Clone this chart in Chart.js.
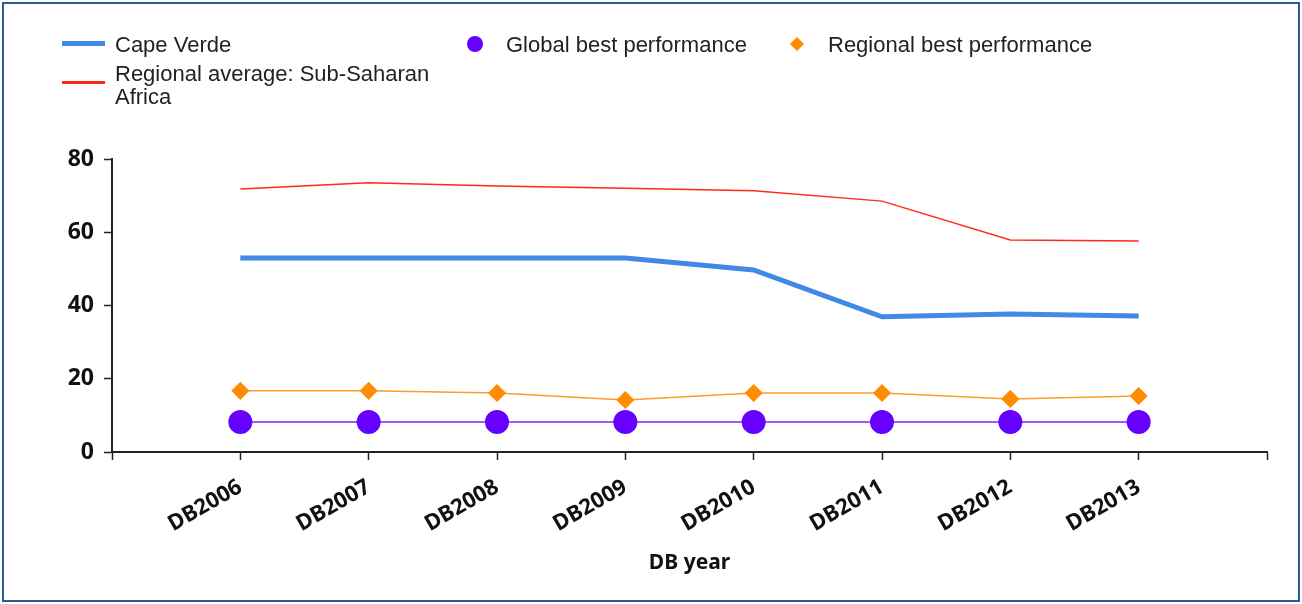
<!DOCTYPE html>
<html lang="en">
<head>
    <meta charset="UTF-8">
    <title>Cape Verde - DB year</title>
    <script src="https://cdn.jsdelivr.net/npm/chart.js"></script>
    <style>
        html, body { margin: 0; padding: 0; background: #fff; }
        body { width: 1302px; height: 604px; position: relative; overflow: hidden; }
        #frame { position: absolute; left: 2px; top: 2px; width: 1294px; height: 596px; border: 2px solid #2b5c9a; }
        #wrap { position: absolute; left: 0; top: 0; width: 1302px; height: 604px; }
        .lg { position: absolute; font-family: "Liberation Sans", Arial, sans-serif; font-size: 22px; color: #222; line-height: 23px; }
        .sw { position: absolute; }
    </style>
</head>
<body>
    <div id="frame"></div>
    <div id="wrap"><canvas id="chart"></canvas></div>
    <div id="legend"></div>

    <script>
        const categories = ['DB2006', 'DB2007', 'DB2008', 'DB2009', 'DB2010', 'DB2011', 'DB2012', 'DB2013'];
        const capeVerde = [53, 53, 53, 53, 49.7, 36.9, 37.7, 37.1];
        const regionalAverage = [71.8, 73.5, 72.6, 72.0, 71.3, 68.5, 57.9, 57.6];
        const globalBest = [8.2, 8.2, 8.2, 8.2, 8.2, 8.2, 8.2, 8.2];
        const regionalBest = [16.7, 16.7, 16.1, 14.2, 16.1, 16.1, 14.5, 15.3];
        const yTicks = [0, 20, 40, 60, 80];

        function pts(arr) {
            return arr.map((v, i) => ({ x: i + 1, y: v }));
        }

        const boldFont = size => ({ family: '"Noto Sans", "Open Sans", sans-serif', size: size, weight: 'bold' });

        new Chart(document.getElementById('chart'), {
            type: 'line',
            data: {
                datasets: [
                    { label: 'Cape Verde', data: pts(capeVerde), borderColor: '#4189e6', borderWidth: 5, pointRadius: 0, order: 2 },
                    { label: 'Regional average: Sub-Saharan Africa', data: pts(regionalAverage), borderColor: '#ff2a1a', borderWidth: 1.5, pointRadius: 0, order: 1 },
                    { label: 'Global best performance', data: pts(globalBest), borderColor: '#9b5cff', borderWidth: 2, pointStyle: 'circle', pointRadius: 11, pointBackgroundColor: '#6600ff', pointBorderColor: '#6600ff', order: 4 },
                    { label: 'Regional best performance', data: pts(regionalBest), borderColor: '#ff9a2a', borderWidth: 1.5, pointStyle: 'rectRot', pointRadius: 8, pointBackgroundColor: '#ff8c00', pointBorderColor: '#ff8c00', order: 3 }
                ]
            },
            options: {
                responsive: true,
                maintainAspectRatio: false,
                animation: false,
                layout: { padding: { top: 159, right: 35, left: 0, bottom: 0 } },
                plugins: { legend: { display: false }, tooltip: { enabled: false } },
                scales: {
                    x: {
                        type: 'linear',
                        min: 0,
                        max: categories.length + 1,
                        afterBuildTicks: s => { s.ticks = Array.from({ length: categories.length + 2 }, (_, i) => ({ value: i })); },
                        afterFit: s => { s.height = 152; },
                        grid: { drawOnChartArea: false, color: '#222', tickLength: 8, tickWidth: 1.5 },
                        border: { color: '#222', width: 2 },
                        ticks: {
                            autoSkip: false,
                            minRotation: 30,
                            maxRotation: 30,
                            padding: 14,
                            color: '#111',
                            font: boldFont(22),
                            callback: v => categories[v - 1] || ''
                        },
                        title: { display: true, text: 'DB year', color: '#111', font: boldFont(21), padding: { top: 4, bottom: 28 } }
                    },
                    y: {
                        min: 0,
                        max: 80,
                        afterBuildTicks: s => { s.ticks = yTicks.map(v => ({ value: v })); },
                        afterFit: s => { s.width = 112; },
                        grid: { drawOnChartArea: false, color: '#222', tickLength: 8, tickWidth: 1.5 },
                        border: { color: '#222', width: 2 },
                        ticks: { padding: 10, color: '#111', font: boldFont(23) }
                    }
                }
            }
        });

        // legend drawn as html so the long label can wrap like the original
        const legendItems = [
            { text: 'Cape Verde', kind: 'line', color: '#4189e6', thick: 5, left: 62, top: 33, width: 390 },
            { text: 'Regional average: Sub-Saharan Africa', kind: 'line', color: '#ff2a1a', thick: 3, left: 62, top: 62, width: 390 },
            { text: 'Global best performance', kind: 'dot', color: '#6600ff', left: 466, top: 33, width: 320 },
            { text: 'Regional best performance', kind: 'diamond', color: '#ff8c00', left: 788, top: 33, width: 340 }
        ];
        const lg = document.getElementById('legend');
        legendItems.forEach(it => {
            const box = document.createElement('div');
            box.className = 'lg';
            box.style.left = it.left + 'px';
            box.style.top = it.top + 'px';
            const sw = document.createElement('div');
            sw.className = 'sw';
            if (it.kind === 'line') {
                sw.style.cssText = `left:0;top:${(it.text.length > 20 ? 20 : 10) - it.thick / 2}px;width:43px;height:${it.thick}px;background:${it.color};`;
            } else if (it.kind === 'dot') {
                sw.style.cssText = `left:1px;top:3px;width:16px;height:16px;border-radius:50%;background:${it.color};`;
            } else {
                sw.style.cssText = `left:4px;top:6px;width:10px;height:10px;transform:rotate(45deg);background:${it.color};`;
            }
            const tx = document.createElement('div');
            tx.style.cssText = `margin-left:${it.kind === 'line' ? 53 : 40}px;width:${it.width - 53}px;`;
            tx.textContent = it.text;
            box.appendChild(sw);
            box.appendChild(tx);
            lg.appendChild(box);
        });
    </script>
</body>
</html>
